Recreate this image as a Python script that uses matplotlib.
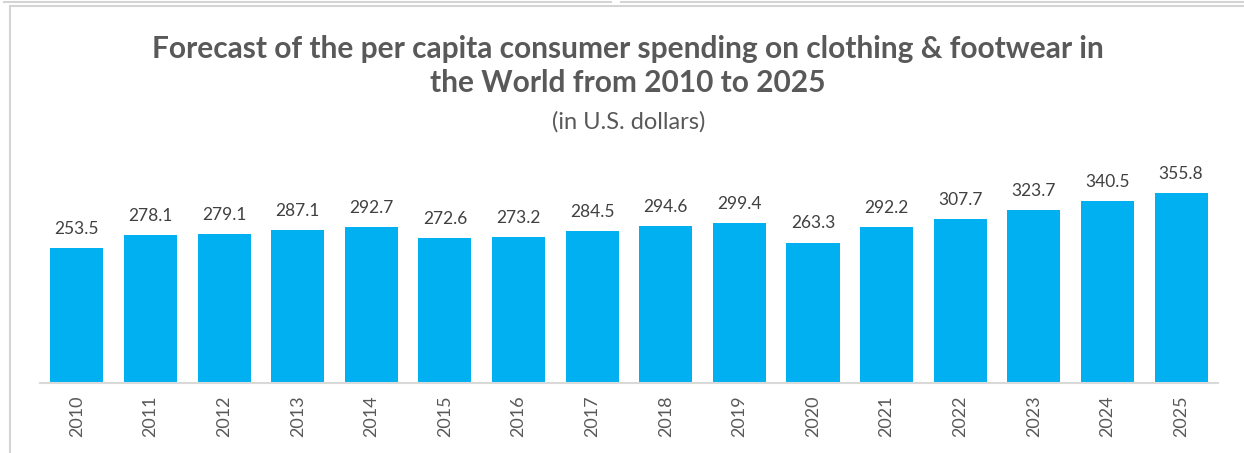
import matplotlib.pyplot as plt
from matplotlib.lines import Line2D

years = ['2010', '2011', '2012', '2013', '2014', '2015', '2016', '2017',
         '2018', '2019', '2020', '2021', '2022', '2023', '2024', '2025']
spending = [253.5, 278.1, 279.1, 287.1, 292.7, 272.6, 273.2, 284.5,
            294.6, 299.4, 263.3, 292.2, 307.7, 323.7, 340.5, 355.8]

plt.rcParams['font.family'] = ['Lato', 'DejaVu Sans']

fig = plt.figure(figsize=(12.44, 4.53), dpi=100)
ax = fig.add_axes([0.0322, 0.1545, 0.9468, 0.5145])

x = range(len(years))
bars = ax.bar(x, spending, width=0.72, color='#00B0F0', zorder=2)
for i, v in zip(x, spending):
    ax.annotate(f'{v:.1f}', (i, v), xytext=(0, 8), textcoords='offset points',
                ha='center', va='bottom', fontsize=12.5, color='#404040')

ax.set_xlim(-0.5, len(years) - 0.5)
ax.set_ylim(0, 437)
ax.set_xticks(list(x))
ax.set_xticklabels(years, rotation=90, fontsize=13, color='#595959')
ax.tick_params(axis='x', length=0, pad=9)
ax.set_yticks([])
for s in ['top', 'right', 'left']:
    ax.spines[s].set_visible(False)
ax.spines['bottom'].set_color('#D9D9D9')
ax.spines['bottom'].set_linewidth(1.5)

fig.text(0.505, 1 - 66 / 453, 'Forecast of the per capita consumer spending on clothing & footwear in\nthe World from 2010 to 2025',
         ha='center', va='center', fontsize=21.5, fontweight='bold', color='#595959', linespacing=1.27)
fig.text(0.505, 1 - 122 / 453, '(in U.S. dollars)', ha='center', va='center', fontsize=17, color='#595959')

# window frame around the chart
fig.add_artist(Line2D([10 / 1244, 1], [1 - 6 / 453, 1 - 6 / 453], color='#D4D4D4', lw=1.5))
fig.add_artist(Line2D([10 / 1244, 10 / 1244], [0, 1 - 6 / 453], color='#D4D4D4', lw=1.5))
fig.add_artist(Line2D([4 / 1244, 611 / 1244], [1 - 1.5 / 453, 1 - 1.5 / 453], color='#D4D4D4', lw=1.5))
fig.add_artist(Line2D([621 / 1244, 1], [1 - 1.5 / 453, 1 - 1.5 / 453], color='#D4D4D4', lw=1.5))

fig.savefig('out.png', dpi=100)
